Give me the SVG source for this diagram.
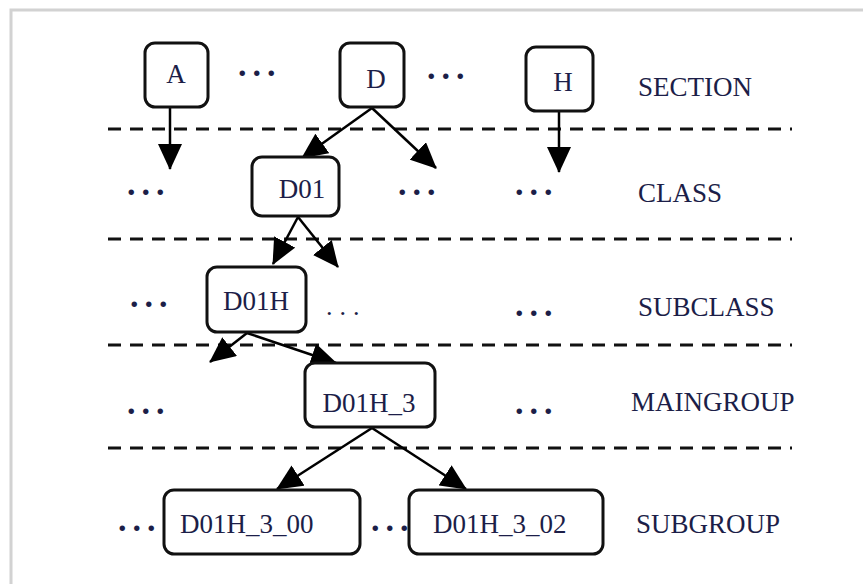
<svg xmlns="http://www.w3.org/2000/svg" width="863" height="584" viewBox="0 0 863 584">
<defs>
<marker id="ah" markerUnits="userSpaceOnUse" markerWidth="26" markerHeight="24" viewBox="0 0 26 24" refX="25" refY="12" orient="auto">
<path d="M0,0 L26,12 L0,24 z" fill="#000"/>
</marker>
<style>
.box{fill:#fff;stroke:#111;stroke-width:3}
.t{font-family:"Liberation Serif","Times New Roman",serif;font-size:27px;fill:#1c1e48}
.c{text-anchor:middle}
.dots{font-family:"Liberation Serif","Times New Roman",serif;font-size:34px;font-weight:bold;fill:#1c1e48;letter-spacing:6px}
.sd{font-family:"Liberation Serif","Times New Roman",serif;font-size:26px;fill:#1c1e48;letter-spacing:7px}
.dash{stroke:#111;stroke-width:3;stroke-dasharray:13 9;fill:none}
.edge{stroke:#000;stroke-width:2.5;fill:none;marker-end:url(#ah)}
</style>
</defs>
<rect width="863" height="584" fill="#fff"/>
<path d="M11,584 V10 H863" fill="none" stroke="#d2d2d2" stroke-width="3"/>

<g id="levels">
<line class="dash" x1="108" y1="129" x2="792" y2="129"/>
<line class="dash" x1="108" y1="239" x2="792" y2="239"/>
<line class="dash" x1="108" y1="345" x2="792" y2="345"/>
<line class="dash" x1="108" y1="448" x2="792" y2="448"/>
<text class="t" x="638" y="96">SECTION</text>
<text class="t" x="638" y="202">CLASS</text>
<text class="t" x="638" y="316">SUBCLASS</text>
<text class="t" x="631" y="411">MAINGROUP</text>
<text class="t" x="636" y="533">SUBGROUP</text>
</g>

<g id="ellipses">
<text class="dots" x="238" y="76">...</text>
<text class="dots" x="427" y="79">...</text>
<text class="dots" x="127" y="195">...</text>
<text class="dots" x="398" y="195">...</text>
<text class="dots" x="515" y="195">...</text>
<text class="dots" x="130" y="307">...</text>
<text class="sd" x="326" y="315">...</text>
<text class="dots" x="515" y="316">...</text>
<text class="dots" x="127" y="414">...</text>
<text class="dots" x="515" y="414">...</text>
<text class="dots" x="118" y="531">...</text>
<text class="dots" x="371" y="531">...</text>
</g>

<g id="connectors">
<line class="edge" x1="170" y1="107" x2="170" y2="169"/>
<line class="edge" x1="372" y1="108" x2="302" y2="158"/>
<line class="edge" x1="372" y1="108" x2="436" y2="168"/>
<line class="edge" x1="559" y1="111" x2="559" y2="172"/>
<line class="edge" x1="298" y1="217" x2="273" y2="264"/>
<line class="edge" x1="298" y1="217" x2="338" y2="267"/>
<line class="edge" x1="247" y1="333" x2="210" y2="362"/>
<line class="edge" x1="247" y1="333" x2="336" y2="363"/>
<line class="edge" x1="372" y1="428" x2="277" y2="489"/>
<line class="edge" x1="372" y1="428" x2="466" y2="489"/>
</g>

<g id="node-A"><rect class="box" x="145" y="43" width="63" height="64" rx="10"/><text class="t c" x="176" y="83">A</text></g>
<g id="node-D"><rect class="box" x="340" y="43" width="64" height="64" rx="10"/><text class="t c" x="376" y="88">D</text></g>
<g id="node-H"><rect class="box" x="526" y="47" width="67" height="64" rx="10"/><text class="t c" x="563" y="91">H</text></g>
<g id="node-D01"><rect class="box" x="252" y="157" width="87" height="59" rx="10"/><text class="t c" x="302" y="198">D01</text></g>
<g id="node-D01H"><rect class="box" x="207" y="267" width="99" height="65" rx="10"/><text class="t c" x="256" y="310">D01H</text></g>
<g id="node-D01H_3"><rect class="box" x="305" y="363" width="130" height="64" rx="10"/><text class="t c" x="369" y="412">D01H_3</text></g>
<g id="node-D01H_3_00"><rect class="box" x="164" y="490" width="196" height="64" rx="10"/><text class="t" x="180" y="533">D01H_3_00</text></g>
<g id="node-D01H_3_02"><rect class="box" x="409" y="490" width="194" height="64" rx="10"/><text class="t" x="433" y="533">D01H_3_02</text></g>
</svg>
